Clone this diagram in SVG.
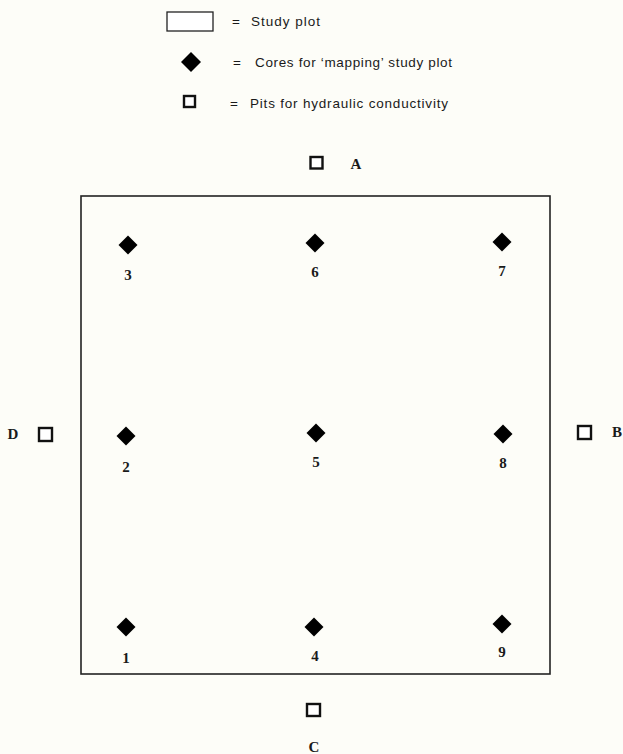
<svg xmlns="http://www.w3.org/2000/svg" width="623" height="754" viewBox="0 0 623 754">
<style>
.leg{font-family:"Liberation Sans",Arial,sans-serif;font-size:13.5px;fill:#1a1a1a}
.num{font-family:"Liberation Serif","Times New Roman",serif;font-size:15px;font-weight:bold;fill:#1a1a1a;text-anchor:middle}
.lab{font-family:"Liberation Serif","Times New Roman",serif;font-size:15px;font-weight:bold;fill:#1a1a1a;text-anchor:middle}
.pit{fill:#fff;stroke:#111;stroke-width:2.4}
.core{fill:#000}
</style>
<defs>
<path id="dia" d="M0,-9.5 L9.5,0 L0,9.5 L-9.5,0 Z"/>
</defs>
<rect width="623" height="754" fill="#fdfdf8"/>
<g id="legend">
<rect x="167" y="12" width="46" height="19" fill="#fff" stroke="#222" stroke-width="1.3"/>
<text class="leg" x="232" y="26">=</text>
<text class="leg" x="251" y="26" textLength="69" lengthAdjust="spacing">Study plot</text>
<path d="M191,52 L201,62 L191,72 L181,62 Z" class="core"/>
<text class="leg" x="233" y="67">=</text>
<text class="leg" x="255" y="67" textLength="197" lengthAdjust="spacing">Cores for ‘mapping’ study plot</text>
<rect x="184" y="96" width="11" height="11" class="pit" stroke-width="2"/>
<text class="leg" x="230" y="108">=</text>
<text class="leg" x="250" y="108" textLength="198" lengthAdjust="spacing">Pits for hydraulic conductivity</text>
</g>
<g id="plot">
<rect x="81" y="196" width="469" height="478" fill="none" stroke="#222" stroke-width="1.6"/>
</g>
<g id="cores">
<g id="core3"><use href="#dia" x="128" y="245" class="core"/><text class="num" x="128" y="280">3</text></g>
<g id="core6"><use href="#dia" x="315" y="243" class="core"/><text class="num" x="315" y="277">6</text></g>
<g id="core7"><use href="#dia" x="502" y="242" class="core"/><text class="num" x="502" y="276">7</text></g>
<g id="core2"><use href="#dia" x="126" y="436" class="core"/><text class="num" x="126" y="472">2</text></g>
<g id="core5"><use href="#dia" x="316" y="433" class="core"/><text class="num" x="316" y="467">5</text></g>
<g id="core8"><use href="#dia" x="503" y="434" class="core"/><text class="num" x="503" y="468">8</text></g>
<g id="core1"><use href="#dia" x="126" y="627" class="core"/><text class="num" x="126" y="663">1</text></g>
<g id="core4"><use href="#dia" x="314" y="627" class="core"/><text class="num" x="315" y="661">4</text></g>
<g id="core9"><use href="#dia" x="502" y="624" class="core"/><text class="num" x="502" y="657">9</text></g>
</g>
<g id="pits">
<g id="pitA"><rect x="310.5" y="157" width="12" height="11.5" class="pit"/><text class="lab" x="356" y="169">A</text></g>
<g id="pitB"><rect x="578" y="426" width="13" height="13" class="pit"/><text class="lab" x="617" y="437">B</text></g>
<g id="pitC"><rect x="307" y="704" width="13" height="12" class="pit"/><text class="lab" x="314" y="752">C</text></g>
<g id="pitD"><rect x="39" y="428" width="13" height="13" class="pit"/><text class="lab" x="13" y="439">D</text></g>
</g>
<g id="connectors"/>
</svg>
